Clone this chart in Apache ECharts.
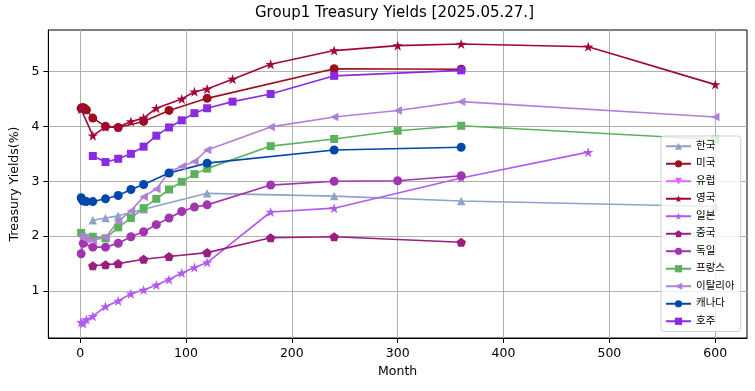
<!DOCTYPE html>
<html><head><meta charset="utf-8">
<script src="https://cdn.jsdelivr.net/npm/echarts@6/dist/echarts.min.js"></script>
<style>html,body{margin:0;padding:0;background:#fff}#c{width:755px;height:391px}</style>
</head><body><div id="c"></div>
<script>
// ---- data (months to maturity, yields %) ----
const names = ['한국','미국','유럽','영국','일본','중국','독일','프랑스','이탈리아','캐나다','호주'];
const xTicks = [0,100,200,300,400,500,600];
const yTicks = [1,2,3,4,5];

const krM = [12,24,36,60,120,240,360,600];
const krV = [2.29,2.33,2.37,2.49,2.78,2.73,2.64,2.54];
const usM = [1,2,3,4,6,12,24,36,60,84,120,240,360];
const usV = [4.33,4.34,4.34,4.33,4.30,4.15,4.00,3.98,4.09,4.29,4.51,5.05,5.04];
const euM = [];
const euV = [];
const ukM = [1,12,24,36,48,60,72,96,108,120,144,180,240,300,360,480,600];
const ukV = [4.31,3.83,3.99,3.99,4.09,4.15,4.33,4.50,4.63,4.68,4.86,5.13,5.38,5.47,5.50,5.45,4.76];
const jpM = [1,3,6,12,24,36,48,60,72,84,96,108,120,180,240,360,480];
const jpV = [0.43,0.41,0.48,0.54,0.72,0.82,0.95,1.02,1.11,1.21,1.33,1.43,1.52,2.44,2.51,3.06,3.53];
const cnM = [12,24,36,60,84,120,180,240,360];
const cnV = [1.46,1.48,1.50,1.58,1.63,1.70,1.97,1.99,1.89];
const deM = [1,3,12,24,36,48,60,72,84,96,108,120,180,240,300,360];
const deV = [1.68,1.87,1.80,1.80,1.87,1.99,2.08,2.21,2.33,2.45,2.53,2.57,2.93,3.00,3.01,3.10];
const frM = [1,12,24,36,48,60,72,84,96,108,120,180,240,300,360,600];
const frV = [2.06,1.99,1.96,2.16,2.33,2.51,2.68,2.85,2.99,3.13,3.23,3.64,3.77,3.92,4.01,3.76];
const itM = [1,3,6,12,24,36,48,60,72,84,96,108,120,180,240,300,360,600];
const itV = [2.00,1.96,1.94,1.92,1.98,2.27,2.46,2.72,2.86,3.17,3.27,3.36,3.57,3.99,4.17,4.29,4.45,4.17];
const caM = [1,2,3,6,12,24,36,48,60,84,120,240,360];
const caV = [2.70,2.66,2.64,2.63,2.63,2.68,2.74,2.85,2.94,3.15,3.33,3.57,3.62];
const auM = [12,24,36,48,60,72,84,96,108,120,144,180,240,360];
const auV = [3.46,3.35,3.41,3.50,3.63,3.83,3.98,4.11,4.24,4.33,4.45,4.59,4.92,5.02];

const months = [krM,usM,euM,ukM,jpM,cnM,deM,frM,itM,caM,auM];
const values = [krV,usV,euV,ukV,jpV,cnV,deV,frV,itV,caV,auV];
</script>
<script>
const STAR = 'path://M50,0 L61.8,35.4 L100,35.4 L69.1,57.3 L80.9,95.1 L50,72.4 L19.1,95.1 L30.9,57.3 L0,35.4 L38.2,35.4 Z';
const PENT = 'path://M50,0 L100,36.3 L80.9,95.1 L19.1,95.1 L0,36.3 Z';
const colors = ['#8fa2c9','#9c0e1e','#e066ff','#a2043c','#b259f0','#9b1d7e','#a234b2','#5cb25c','#b180d6','#0047ab','#8a2be2'];
const symbols = ['triangle','circle','triangle',STAR,STAR,PENT,'circle','rect','triangle','circle','rect'];
const rotates = [0,0,180,0,0,0,0,0,90,0,0];
const sizes = [8.5,9,8.5,10.5,10.5,9.5,9,8,8.5,9,8];
const FONT = "'DejaVu Sans','Noto Sans CJK KR',sans-serif";

const series = names.map((n,i)=>({
  name:n, type:'line', color:colors[i],
  data: months[i].map((m,j)=>[m, values[i][j]]),
  symbol:symbols[i], symbolRotate:rotates[i], symbolSize:sizes[i], symbolKeepAspect:true,
  showAllSymbol:true,
  lineStyle:{width:1.6, color:colors[i]},
  itemStyle:{color:colors[i]},
  emphasis:{disabled:true}
}));

const chart = echarts.init(document.getElementById('c'), null, {renderer:'canvas'});
chart.setOption({
  animation:false,
  textStyle:{fontFamily:FONT},
  title:{text:'Group1 Treasury Yields [2025.05.27.]', left:255, top:6, padding:0,
    textStyle:{fontFamily:FONT, fontSize:15, fontWeight:'normal', color:'#000'}},
  grid:{left:48, top:30, width:699, height:308, show:true, borderColor:'#000', borderWidth:1, backgroundColor:'transparent'},
  legend:{orient:'vertical', left:661, top:136, padding:[5,6,5,4], itemWidth:25, itemHeight:9, itemGap:7,
    backgroundColor:'rgba(255,255,255,0.8)', borderColor:'#d0d0d0', borderWidth:1, borderRadius:3,
    textStyle:{fontFamily:FONT, fontSize:10.5, color:'#000'}, data:names, z:10},
  xAxis:{type:'value', min:-30, max:630, name:'Month', nameLocation:'middle', nameGap:27,
    nameTextStyle:{fontFamily:FONT, fontSize:12.5, color:'#000'},
    axisLine:{show:true, onZero:false, lineStyle:{color:'#000', width:1}},
    axisTick:{show:true, length:5, lineStyle:{color:'#000'}, customValues:xTicks},
    axisLabel:{color:'#000', fontSize:12.5, fontFamily:FONT, margin:9, customValues:xTicks},
    splitLine:{show:true, lineStyle:{color:'#b0b0b0', width:1}}},
  yAxis:{type:'value', min:0.145, max:5.755, name:'Treasury Yields(%)', nameLocation:'middle', nameGap:24,
    nameTextStyle:{fontFamily:FONT, fontSize:12.5, color:'#000'},
    axisLine:{show:true, onZero:false, lineStyle:{color:'#000', width:1}},
    axisTick:{show:true, length:5, lineStyle:{color:'#000'}, customValues:yTicks},
    axisLabel:{color:'#000', fontSize:12.5, fontFamily:FONT, margin:9, customValues:yTicks},
    splitLine:{show:true, lineStyle:{color:'#b0b0b0', width:1}}},
  series:series
});
</script>
</body></html>
